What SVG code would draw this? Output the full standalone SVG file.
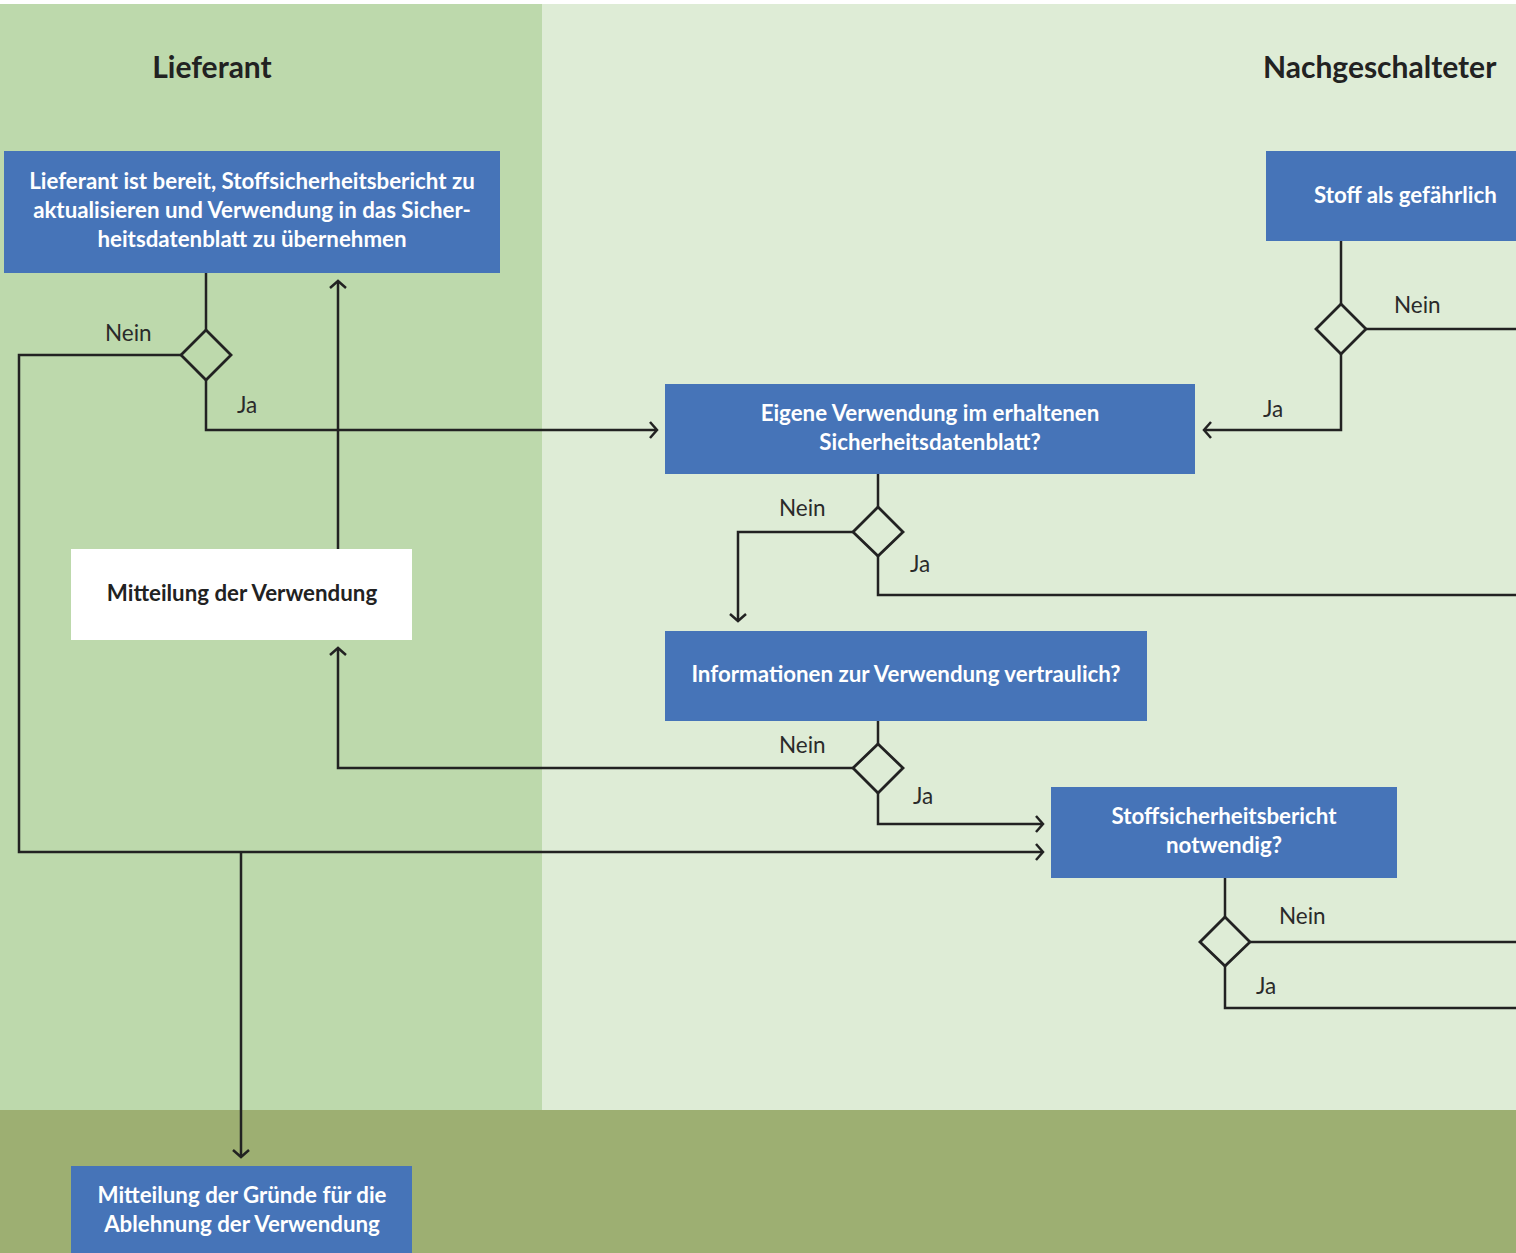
<svg xmlns="http://www.w3.org/2000/svg" width="1516" height="1253" viewBox="0 0 1516 1253">
<defs>
<style>
.box{fill:#4674B8}
.wbox{fill:#ffffff}
.bt{font-family:Lato,"Open Sans",sans-serif;font-weight:bold;font-size:22.3px;fill:#ffffff;text-anchor:middle}
.dt{font-family:Lato,"Open Sans",sans-serif;font-weight:bold;font-size:22.3px;fill:#222222;text-anchor:middle}
.title{font-family:Lato,"Open Sans",sans-serif;font-weight:bold;font-size:30px;fill:#222222}
.lbl{font-family:Lato,"Open Sans",sans-serif;font-size:22.5px;fill:#2a2a2a}
.ln{fill:none;stroke:#222222;stroke-width:2.5}
.dia{fill:none;stroke:#222222;stroke-width:2.8}
</style>
<marker id="arr" markerUnits="userSpaceOnUse" markerWidth="20" markerHeight="20" viewBox="-10 -10 20 20" refX="0" refY="0" orient="auto">
<path d="M-7,-8 L0,0 L-7,8" fill="none" stroke="#222222" stroke-width="2.5"/>
</marker>
</defs>
<rect x="0" y="0" width="1516" height="1253" fill="#ffffff"/>
<rect x="0" y="4" width="542" height="1106" fill="#BDD9AC"/>
<rect x="542" y="4" width="974" height="1106" fill="#DEECD6"/>
<rect x="0" y="1110" width="1516" height="143" fill="#9DAF72"/>
<text class="title" x="212" y="78" text-anchor="middle">Lieferant</text>
<text class="title" x="1263" y="78">Nachgeschalteter</text>
<g id="connectors">
<path class="ln" d="M206,273 V330"/>
<path class="ln" d="M181,355 H19 V852 H1043" marker-end="url(#arr)"/>
<path class="ln" d="M206,380 V430 H657" marker-end="url(#arr)"/>
<path class="ln" d="M338,549 V281" marker-end="url(#arr)"/>
<path class="ln" d="M241,852 V1157" marker-end="url(#arr)"/>
<path class="ln" d="M1341,241 V304"/>
<path class="ln" d="M1366,329 H1516"/>
<path class="ln" d="M1341,354 V430 H1204" marker-end="url(#arr)"/>
<path class="ln" d="M878,474 V507"/>
<path class="ln" d="M853,532 H738 V621" marker-end="url(#arr)"/>
<path class="ln" d="M878,556 V595 H1516"/>
<path class="ln" d="M878,721 V744"/>
<path class="ln" d="M853,768 H338 V648" marker-end="url(#arr)"/>
<path class="ln" d="M878,793 V824 H1043" marker-end="url(#arr)"/>
<path class="ln" d="M1225,878 V917"/>
<path class="ln" d="M1250,942 H1516"/>
<path class="ln" d="M1225,966 V1008 H1516"/>
<text class="lbl" x="105" y="341">Nein</text>
<text class="lbl" x="237" y="413">Ja</text>
<text class="lbl" x="1394" y="313">Nein</text>
<text class="lbl" x="1263" y="417">Ja</text>
<text class="lbl" x="779" y="516">Nein</text>
<text class="lbl" x="910" y="572">Ja</text>
<text class="lbl" x="779" y="753">Nein</text>
<text class="lbl" x="913" y="804">Ja</text>
<text class="lbl" x="1279" y="924">Nein</text>
<text class="lbl" x="1256" y="994">Ja</text>
</g>
<g id="d1"><path class="dia" d="M206,330 L231,355 L206,380 L181,355 Z"/></g>
<g id="d2"><path class="dia" d="M1341,304 L1366,329 L1341,354 L1316,329 Z"/></g>
<g id="d3"><path class="dia" d="M878,507 L903,532 L878,556 L853,532 Z"/></g>
<g id="d4"><path class="dia" d="M878,744 L903,768 L878,793 L853,768 Z"/></g>
<g id="d5"><path class="dia" d="M1225,917 L1250,942 L1225,966 L1200,942 Z"/></g>
<g id="n1">
<rect class="box" x="4" y="151" width="496" height="122"/>
<text class="bt" x="252" y="189">Lieferant ist bereit, Stoffsicherheitsbericht zu</text>
<text class="bt" x="252" y="218">aktualisieren und Verwendung in das Sicher-</text>
<text class="bt" x="252" y="247">heitsdatenblatt zu übernehmen</text>
</g>
<g id="n2">
<rect class="box" x="1266" y="151" width="250" height="90"/>
<text class="bt" x="1314" y="203" style="text-anchor:start">Stoff als gefährlich</text>
</g>
<g id="n3">
<rect class="box" x="665" y="384" width="530" height="90"/>
<text class="bt" x="930" y="421">Eigene Verwendung im erhaltenen</text>
<text class="bt" x="930" y="450">Sicherheitsdatenblatt?</text>
</g>
<g id="n4">
<rect class="wbox" x="71" y="549" width="341" height="91"/>
<text class="dt" x="242" y="601">Mitteilung der Verwendung</text>
</g>
<g id="n5">
<rect class="box" x="665" y="631" width="482" height="90"/>
<text class="bt" x="906" y="682">Informationen zur Verwendung vertraulich?</text>
</g>
<g id="n6">
<rect class="box" x="1051" y="787" width="346" height="91"/>
<text class="bt" x="1224" y="824">Stoffsicherheitsbericht</text>
<text class="bt" x="1224" y="853">notwendig?</text>
</g>
<g id="n7">
<rect class="box" x="71" y="1166" width="341" height="87"/>
<text class="bt" x="242" y="1203">Mitteilung der Gründe für die</text>
<text class="bt" x="242" y="1232">Ablehnung der Verwendung</text>
</g>
</svg>
